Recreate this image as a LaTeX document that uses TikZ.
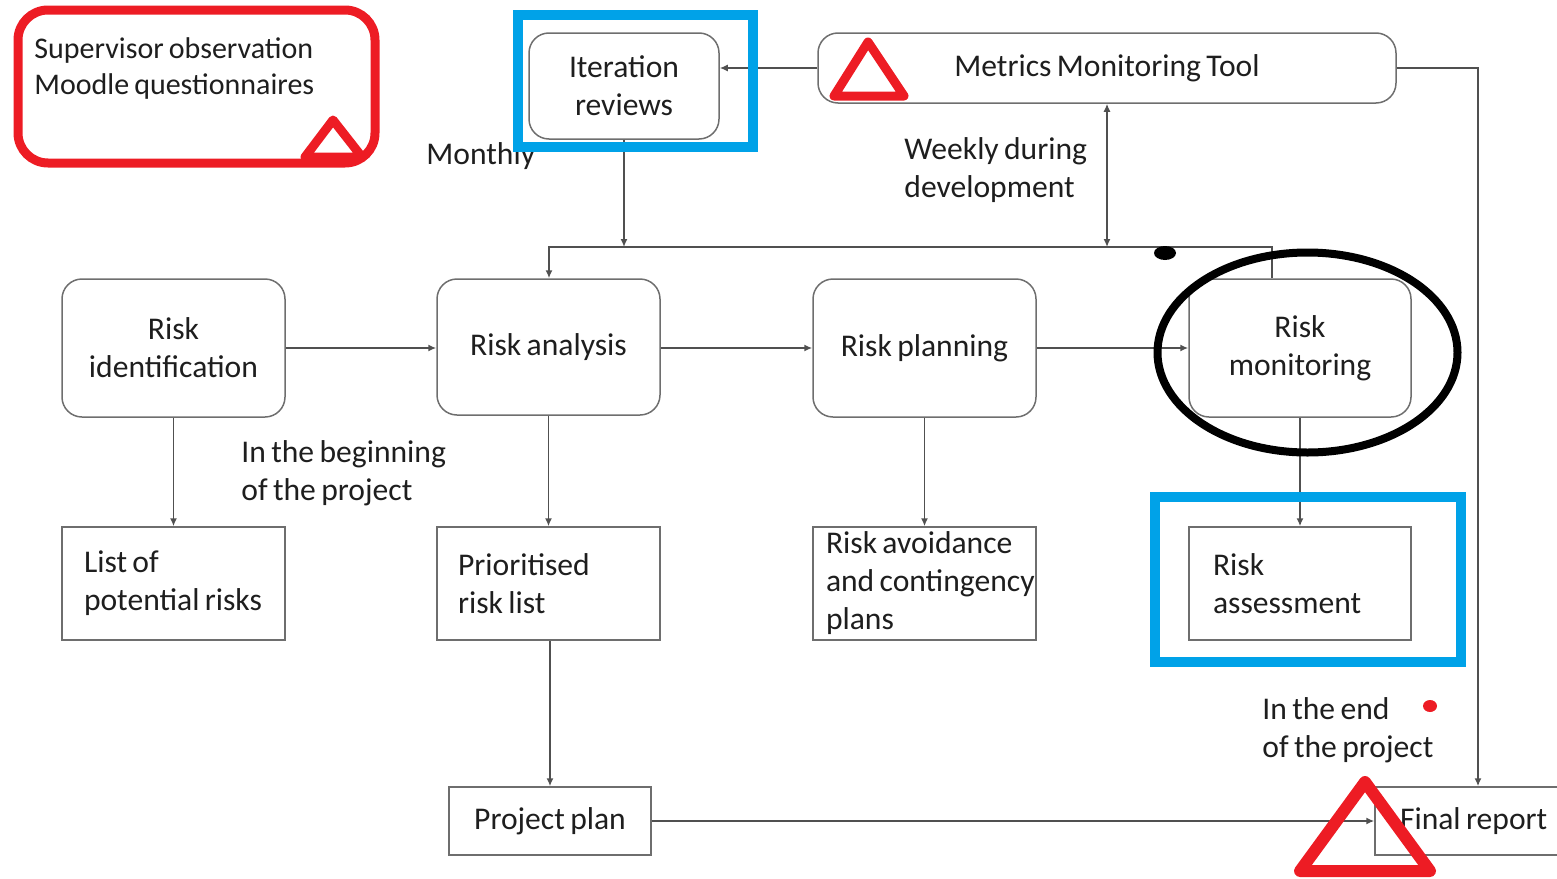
\documentclass[tikz,border=0pt]{standalone}
\usepackage{fontspec}
\setmainfont{Carlito}[WordSpace=0.75]
\usetikzlibrary{arrows.meta}
\definecolor{txt}{RGB}{30,30,30}
\definecolor{bord}{RGB}{110,110,110}
\definecolor{lc}{RGB}{80,80,80}
\definecolor{redc}{RGB}{237,28,36}
\definecolor{bluec}{RGB}{0,162,232}
\begin{document}
\begin{tikzpicture}[x=0.5pt,y=-0.5pt,
 every node/.style={font=\fontsize{15.8}{19}\selectfont, text=txt},
 rbox/.style={draw=bord, line width=0.75pt, rounded corners=10pt, align=center, inner sep=0pt, minimum width=111.5pt, minimum height=69pt},
 sbox/.style={draw=bord, line width=0.75pt, align=left, inner ysep=0pt, minimum height=56.5pt, execute at begin node={\spaceskip=0pt\xspaceskip=0pt}},
 conn/.style={draw=lc, line width=0.75pt},
 arr/.style={conn, -{Latex[length=4pt,width=3.5pt]}},
 lbl/.style={anchor=west, align=left, inner sep=0pt},
 redmark/.style={draw=redc, line width=4.5pt, line join=round},
 bluemark/.style={draw=bluec, line width=5pt},
]
\useasboundingbox (0,0) rectangle (1557,878);

% top row
\node[rbox, minimum width=95pt, minimum height=53pt] (it) at (624,86) {Iteration\\reviews};
\node[rbox, minimum width=289pt, minimum height=35pt] (mt) at (1107,68) {\raisebox{-1pt}{Metrics Monitoring Tool}};

% process row
\node[rbox] (ri) at (173.5,348) {Risk\\identification};
\node[rbox, minimum height=68pt] (ra) at (548.5,347) {Risk analysis};
\node[rbox] (rp) at (924.5,348) {Risk planning};
\node[rbox, minimum width=111pt] (rm) at (1300,348) {Risk\\monitoring};

% output row
\node[sbox, inner xsep=11pt, text width=89.5pt] (lp) at (173.5,583.5) {\mbox{List of}\\\mbox{potential risks}};
\node[sbox, inner xsep=10.5pt, text width=90.5pt] (pr) at (548.5,583.5) {\mbox{Prioritised}\\\mbox{risk list}};
\node[sbox, inner xsep=6.5pt, text width=98.5pt] (av) at (924.5,583.5) {\mbox{Risk avoidance}\\\mbox{and contingency}\\\mbox{plans}};
\node[sbox, inner xsep=12pt, text width=87pt] (as) at (1300,583.5) {\mbox{Risk}\\\mbox{assessment}};

% bottom row
\node[sbox, align=center, minimum width=101pt, minimum height=34pt, inner sep=0pt] (pp) at (550,821) {Project plan};
\node[sbox, inner xsep=12.5pt, text width=78pt, minimum height=34pt] (fr) at (1478,821) {\mbox{Final report}};

% labels
\node[lbl] (lmon) at (426,156) {Monthly};
\node[lbl] (lweek) at (904,170) {\mbox{Weekly during}\\development};
\node[lbl] (lbeg) at (241,473) {\mbox{In the beginning}\\\mbox{of the project}};
\node[lbl] (lend) at (1262,730) {\mbox{In the end}\\\mbox{of the project}};
\node[lbl, font=\fontsize{15}{18}\selectfont] (lsup) at (34,69) {Supervisor observation\\Moodle questionnaires};

% bus
\coordinate (busL) at (549,247);
\coordinate (busR) at (1272,247);
\coordinate (frx) at (1478,68);

% connectors
\draw[arr] (mt.west |- frx) -- (it.east |- frx);
\draw[arr] (it.south) -- (it.south |- busL);
\draw[conn, {Latex[length=4pt,width=3.5pt]}-{Latex[length=4pt,width=3.5pt]}] (mt.south) -- (mt.south |- busL);
\draw[arr] (busR |- rm.north) -- (busR) -- (busL) -- (busL |- ra.north);
\draw[arr] (mt.east |- frx) -- (frx) -- (fr.north);
\draw[arr] (ri.east) -- (ra.west |- ri.east);
\draw[arr] (ra.east |- ri.east) -- (rp.west |- ri.east);
\draw[arr] (rp.east) -- (rm.west);
\draw[arr] (ri.south) -- (lp.north);
\draw[arr] (ra.south) -- (pr.north);
\draw[arr] (rp.south) -- (av.north);
\draw[arr] (rm.south) -- (as.north);
\draw[arr] (pr.south -| pp.north) -- (pp.north);
\draw[arr] (pp.east) -- (fr.west);

% annotations
\draw[redmark, rounded corners=15pt] (18,10) rectangle (375,163);
\draw[redmark] (333,120) -- (362,157) -- (305,157) -- cycle;
\draw[redmark] (868,42) -- (904,96) -- (834,96) -- cycle;
\draw[redmark, line width=6pt] (1365,782) -- (1430,871) -- (1300,871) -- cycle;
\draw[bluemark] (518,15) rectangle (753,147);
\draw[bluemark] (1155,497) rectangle (1461,662);
\draw[line width=4pt] (1307.5,352.5) ellipse [x radius=75pt, y radius=50pt];
\fill (1165,253) ellipse [x radius=5.5pt, y radius=3.5pt];
\fill[redc] (1430,706) ellipse [x radius=3.5pt, y radius=3pt];
\end{tikzpicture}
\end{document}
